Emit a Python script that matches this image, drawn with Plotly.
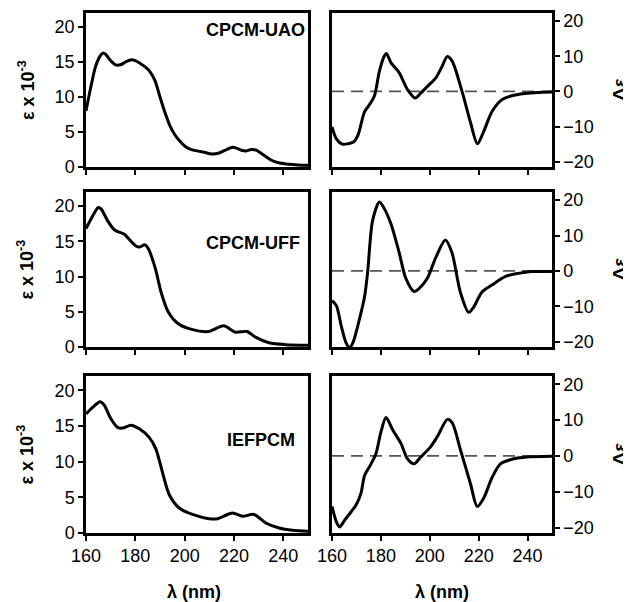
import plotly.graph_objects as go

# ---------------- data ----------------
# Row 1: CPCM-UAO
uao_abs_x = [160, 162, 164, 166, 167, 168, 170, 172, 174, 176, 178, 180, 182, 184, 186, 188, 190, 192, 194, 196,
             198, 200, 202, 205, 208, 211, 214, 217, 219, 221, 223, 225, 227, 229, 232, 235, 238, 242, 246, 250]
uao_abs_y = [8.0, 11.5, 14.5, 16.0, 16.3, 16.1, 15.2, 14.6, 14.6, 15.0, 15.3, 15.2, 14.8, 14.3, 13.6, 12.3, 10.0, 7.8, 5.9, 4.6,
             3.7, 3.0, 2.6, 2.3, 2.1, 1.85, 2.0, 2.5, 2.8, 2.7, 2.4, 2.3, 2.5, 2.4, 1.7, 1.0, 0.6, 0.4, 0.3, 0.25]
uao_cd_x = [160, 161.8, 164.2, 166.5, 168.8, 170.6, 173.3, 175.3, 177.3, 179.4, 181.4, 182.3, 184.1, 187.5, 190.9, 194.0,
            196.3, 199.0, 202.4, 205.1, 207.1, 209.1, 213.2, 216.6, 219.5, 222.0, 225.4, 229.4, 233.5, 238.9, 244.3, 250]
uao_cd_y = [-10.1, -13.5, -15.0, -14.9, -14.4, -12.5, -5.8, -3.8, -1.4, 5.8, 10.1, 10.8, 8.2, 5.3, 0.5, -1.9,
            -0.5, 1.4, 3.8, 7.2, 9.9, 8.7, 0.0, -8.7, -14.9, -11.5, -5.8, -2.4, -1.25, -0.6, -0.3, -0.2]

# Row 2: CPCM-UFF
uff_abs_x = [160, 162.7, 165, 166.1, 168.8, 171.6, 175.6, 177.7, 180.4, 181.8, 183.8, 185.2, 187.9, 190.6, 193.3, 197.4,
             202.9, 209.7, 215.8, 220.6, 225.3, 228.7, 234.2, 241, 250]
uff_abs_y = [16.8, 18.6, 19.8, 19.6, 17.9, 16.6, 16.0, 15.2, 14.3, 14.2, 14.5, 14.0, 11.4, 7.6, 5.0, 3.3,
             2.5, 2.2, 3.0, 2.1, 2.2, 1.4, 0.6, 0.33, 0.24]
uff_cd_x = [160, 161.8, 163.8, 165.8, 167.2, 168.5, 171.2, 173.3, 174.6, 176.6, 179.4, 181.4, 184.1, 187.5, 190.2, 193.6,
            195.6, 199, 202.4, 206.4, 209.1, 212.5, 215.9, 217.9, 221.3, 225.4, 230.8, 236.2, 241.6, 250]
uff_cd_y = [-8.4, -9.8, -15.6, -20.4, -21.6, -20.4, -13.7, -7.4, -0.2, 14.2, 19.5, 17.6, 13.3, 5.1, -2.1, -5.8,
            -5.0, -2.1, 3.7, 8.75, 5.1, -6.0, -11.7, -10.3, -6.0, -4.0, -1.6, -0.7, -0.2, -0.2]

# Row 3: IEFPCM
ief_abs_x = [160, 162.7, 165.7, 167.4, 170.1, 172.8, 174.8, 178.2, 181.6, 185.6, 188.3, 191, 193.7, 197.8, 203.2, 209.9,
             213.3, 219.4, 223.4, 228.1, 232.9, 238.3, 243.7, 250]
ief_abs_y = [16.7, 17.6, 18.4, 17.9, 16.0, 14.8, 14.7, 15.1, 14.6, 13.4, 11.8, 8.5, 5.4, 3.5, 2.6, 2.0,
             2.0, 2.8, 2.35, 2.6, 1.4, 0.7, 0.38, 0.24]
ief_cd_x = [160, 161.8, 163.1, 165.2, 167.9, 169.9, 171.9, 173.3, 176, 178, 180.1, 182.1, 184.8, 188.2, 190.9, 193.6,
            196.3, 200.4, 203.1, 207.2, 209.2, 212.6, 216.7, 219.4, 222.1, 225.5, 228.9, 234.4, 239.8, 250]
ief_cd_y = [-14.1, -18.4, -19.8, -17.9, -15.5, -13.6, -10.3, -5.5, -2.2, 0.7, 6.9, 10.7, 7.3, 3.5, -0.8, -2.2,
            -0.3, 2.6, 5.4, 10.2, 9.2, 1.6, -7.9, -14.1, -11.7, -6.0, -2.2, -0.8, -0.3, -0.1]

labels = ["CPCM-UAO", "CPCM-UFF", "IEFPCM"]
x_ticks = [160, 180, 200, 220, 240]
abs_ticks = [0, 5, 10, 15, 20]
cd_ticks = [-20, -10, 0, 10, 20]

abs_sets = [(uao_abs_x, uao_abs_y), (uff_abs_x, uff_abs_y), (ief_abs_x, ief_abs_y)]
cd_sets = [(uao_cd_x, uao_cd_y), (uff_cd_x, uff_cd_y), (ief_cd_x, ief_cd_y)]

# The page body has an 8px margin, so the figure is drawn 8px in from the top-left.
OFF = 8
W, H = 631 - OFF, 602 - OFF
FONT = "Liberation Sans, Arial, sans-serif"

def px(xp):
    return (xp - OFF) / W

def py(yp):
    return 1 - (yp - OFF) / H

rows_px = [(13, 167), (192, 347), (376, 533)]
left_dom = [px(86), px(308)]
right_dom = [px(332), px(552)]

fig = go.Figure()
layout = dict(
    template="none",
    width=W, height=H,
    margin=dict(l=0, r=0, t=0, b=0, pad=0, autoexpand=False),
    paper_bgcolor="white", plot_bgcolor="white",
    showlegend=False,
    font=dict(family=FONT, size=18, color="black"),
)

shapes = []
annotations = []
line_style = dict(color="black", width=3, shape="spline", smoothing=0.8)

for r in range(3):
    top, bot = rows_px[r]
    ydom = [py(bot), py(top)]
    il = 2 * r + 1
    ir = 2 * r + 2
    xl = "x" if il == 1 else f"x{il}"
    yl = "y" if il == 1 else f"y{il}"
    xr = f"x{ir}"
    yr = f"y{ir}"
    ax_common = dict(showline=True, linecolor="black", linewidth=2.5, mirror=True,
                     ticks="outside", ticklen=5, tickwidth=2, tickcolor="black",
                     showgrid=False, zeroline=False, automargin=False,
                     tickfont=dict(family=FONT, size=18, color="black"))
    last = (r == 2)
    layout["xaxis" + ("" if il == 1 else str(il))] = dict(
        domain=left_dom, range=[160, 250], anchor=yl, tickvals=x_ticks,
        showticklabels=last, **ax_common)
    layout["yaxis" + ("" if il == 1 else str(il))] = dict(
        domain=ydom, range=[0, 22], anchor=xl, tickvals=abs_ticks, side="left", **ax_common)
    layout[f"xaxis{ir}"] = dict(
        domain=right_dom, range=[160, 250], anchor=yr, tickvals=x_ticks,
        showticklabels=last, **ax_common)
    layout[f"yaxis{ir}"] = dict(
        domain=ydom, range=[-21.5, 22.3], anchor=xr, tickvals=cd_ticks, side="right", **ax_common)

    ax, ay = abs_sets[r]
    fig.add_trace(go.Scatter(x=ax, y=ay, mode="lines", line=line_style, xaxis=xl, yaxis=yl))
    cx, cy = cd_sets[r]
    shapes.append(dict(type="line", xref=xr, yref=yr, x0=160, x1=250, y0=0, y1=0,
                       line=dict(color="#555555", width=1.8, dash="12px,7px"), layer="below"))
    fig.add_trace(go.Scatter(x=cx, y=cy, mode="lines", line=line_style, xaxis=xr, yaxis=yr))

    ymid = (top + bot) / 2
    annotations.append(dict(xref="paper", yref="paper", x=px(26), y=py(ymid),
                            xanchor="center", yanchor="middle",
                            text="<b>ε x 10<sup>-3</sup></b>", textangle=-90, showarrow=False,
                            font=dict(family=FONT, size=18, color="black")))
    annotations.append(dict(xref="paper", yref="paper", x=px(619), y=py(ymid),
                            xanchor="center", yanchor="middle",
                            text="<b>Δε</b>", textangle=-90, showarrow=False,
                            font=dict(family=FONT, size=19, color="black")))

# panel labels
label_pos = [(307, 30), (302, 243), (297, 440)]
for lab, (lx, ly) in zip(labels, label_pos):
    annotations.append(dict(xref="paper", yref="paper", x=px(lx), y=py(ly), xanchor="right",
                            yanchor="middle", text=f"<b>{lab}</b>", showarrow=False,
                            font=dict(family=FONT, size=18, color="black")))

# x titles
for cx_ in (194, 442):
    annotations.append(dict(xref="paper", yref="paper", x=px(cx_), y=py(592),
                            xanchor="center", yanchor="middle",
                            text="<b>λ (nm)</b>", showarrow=False,
                            font=dict(family=FONT, size=18, color="black")))

layout["shapes"] = shapes
layout["annotations"] = annotations
fig.update_layout(**layout)
fig.write_html("out.html")
